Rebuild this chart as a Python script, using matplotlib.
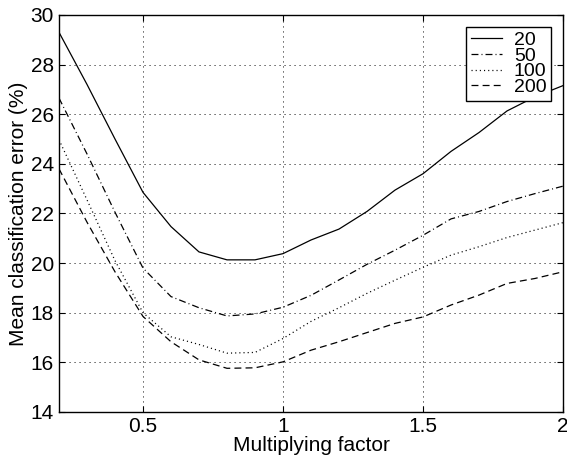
import numpy as np
import matplotlib
matplotlib.use("Agg")
import matplotlib.pyplot as plt

plt.rcParams['font.family'] = ['Liberation Sans', 'DejaVu Sans']
plt.rcParams['lines.scale_dashes'] = False

# Multiplying factor and mean classification error (%) per setting
factor = [0.2, 0.3, 0.4, 0.5, 0.6, 0.7, 0.8, 0.9, 1.0, 1.1,
          1.2, 1.3, 1.4, 1.5, 1.6, 1.7, 1.8, 1.9, 2.0]
err_20 = [29.3, 27.2, 25.0, 22.85, 21.47, 20.45, 20.13, 20.13, 20.38, 20.93,
          21.37, 22.08, 22.94, 23.6, 24.5, 25.26, 26.13, 26.7, 27.15]
err_50 = [26.65, 24.4, 22.05, 19.8, 18.65, 18.2, 17.87, 17.95, 18.22, 18.7,
          19.32, 19.95, 20.52, 21.12, 21.78, 22.08, 22.48, 22.8, 23.1]
err_100 = [24.97, 22.55, 20.1, 18.0, 17.03, 16.72, 16.37, 16.4, 16.96, 17.65,
           18.2, 18.78, 19.31, 19.83, 20.32, 20.66, 21.03, 21.33, 21.63]
err_200 = [23.8, 21.65, 19.65, 17.85, 16.83, 16.1, 15.76, 15.78, 16.02, 16.49,
           16.83, 17.2, 17.57, 17.83, 18.31, 18.71, 19.18, 19.38, 19.65]

labels = ['20', '50', '100', '200']
xticks = [0.5, 1, 1.5, 2]
yticks = [14, 16, 18, 20, 22, 24, 26, 28, 30]

fig = plt.figure(figsize=(5.67, 4.65), dpi=100)
ax = fig.add_axes([0.104, 0.114, 0.889, 0.854])

lw = 0.9
ax.plot(factor, err_20, color='black', lw=lw, linestyle='-', label=labels[0])
ax.plot(factor, err_50, color='black', lw=lw, linestyle=(0, (5, 2.2, 0.7, 2.2)), label=labels[1])
ax.plot(factor, err_100, color='black', lw=lw, linestyle=(0, (0.8, 2.2)), label=labels[2])
ax.plot(factor, err_200, color='black', lw=lw, linestyle=(0, (5, 3)), label=labels[3])

ax.set_xlim(0.2, 2)
ax.set_ylim(14, 30)
ax.set_xticks(xticks)
ax.set_xticklabels(['0.5', '1', '1.5', '2'])
ax.set_yticks(yticks)
ax.tick_params(direction='in', top=True, right=True, labelsize=15,
               length=4, width=0.8, colors='black')
ax.grid(True, color='black', lw=0.6, linestyle=(0, (0.8, 2.8)))
for s in ax.spines.values():
    s.set_linewidth(1.0)

ax.set_xlabel('Multiplying factor', fontsize=15, labelpad=0)
ax.set_ylabel('Mean classification error (%)', fontsize=15, labelpad=2)

leg = ax.legend(loc='upper right', fontsize=14, fancybox=False, framealpha=1,
                edgecolor='black', borderaxespad=0.6, labelspacing=-0.1,
                handlelength=1.6, handletextpad=0.6, borderpad=0.25)
leg.get_frame().set_linewidth(1.0)

fig.savefig('out.png', dpi=100)
